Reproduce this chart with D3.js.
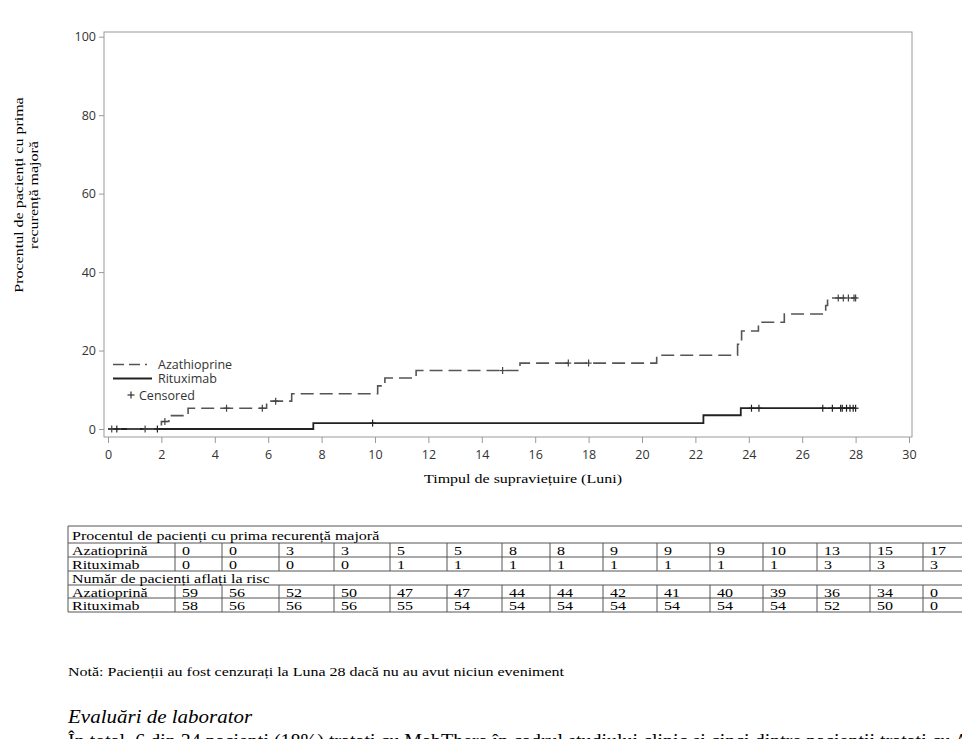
<!DOCTYPE html>
<html><head><meta charset="utf-8">
<script src="https://cdn.jsdelivr.net/npm/d3@7"></script>
<style>
html,body{margin:0;padding:0;background:#fff;overflow:hidden;}
svg{display:block;}
</style></head>
<body>
<svg id="c" width="962" height="739"></svg>
<script>
// ---------- data ----------
const xTicks = [0,2,4,6,8,10,12,14,16,18,20,22,24,26,28,30];
const yTicks = [0,20,40,60,80,100];
// Kaplan-Meier step points [month, cumulative %]
const azaSteps = [[0,0],[2.0,1.9],[2.28,3.4],[3.0,5.3],[5.94,7.1],[6.88,9.0],[10.1,11.0],[10.37,13.0],[11.54,14.9],[15.43,16.8],[20.55,18.8],[23.58,21.6],[23.73,25.0],[24.36,27.2],[25.33,29.3],[26.88,31.5],[26.95,33.4],[28.0,33.4]];
const ritSteps = [[0,0],[7.69,1.5],[22.3,3.5],[23.7,5.3],[28.0,5.3]];
const azaCensor = [0.14,1.39,2.13,4.44,5.78,6.28,14.78,17.24,18.0,27.35,27.54,27.73,27.94,28.0];
const ritCensor = [0.33,1.85,9.91,24.1,24.38,26.77,27.13,27.44,27.5,27.66,27.79,27.91,28.0];
const seriesNames = ["Azathioprine","Rituximab"];
const tableHeader1 = "Procentul de pacienți cu prima recurență majoră";
const tableHeader2 = "Număr de pacienți aflați la risc";
const rowNames = ["Azatioprină","Rituximab"];
const azaPct = [0,0,3,3,5,5,8,8,9,9,9,10,13,15,17];
const ritPct = [0,0,0,0,1,1,1,1,1,1,1,1,3,3,3];
const azaRisk = [59,56,52,50,47,47,44,44,42,41,40,39,36,34,0];
const ritRisk = [58,56,56,56,55,54,54,54,54,54,54,54,52,50,0];
const yLabel = ["Procentul de pacienți cu prima","recurență majoră"];
const xLabel = "Timpul de supraviețuire (Luni)";
const noteText = "Notă: Pacienții au fost cenzurați la Luna 28 dacă nu au avut niciun eveniment";
const headingText = "Evaluări de laborator";
const bodyText = "În total, 6 din 34 pacienți (18%) tratați cu MabThera în cadrul studiului clinic și cinci dintre pacienții tratați cu Azatioprină";

// ---------- layout ----------
const svg = d3.select("#c");
const x = d3.scaleLinear().domain([0,30]).range([108,909]);
const y = d3.scaleLinear().domain([0,100]).range([429,36.7]);
const frame = {x0:104, x1:912, y0:32, y1:437};
const axisCol = "#9a9a9a", tickTxt = "#333", sans = "'Open Sans', 'DejaVu Sans', sans-serif", serif = "'Liberation Serif','Times New Roman',serif";
const SQ = 0.82; // vertical squeeze of serif text in the reference

function sText(parent, x0, y0, str, size, opts={}){
  const t = parent.append("text").attr("transform",`translate(${x0},${y0}) scale(1,${opts.sq||SQ})`)
    .attr("font-family",serif).attr("font-size",size).attr("fill","#000").text(str);
  if(opts.italic) t.attr("font-style","italic");
  if(opts.anchor) t.attr("text-anchor",opts.anchor);
  return t;
}

svg.append("rect").attr("x",frame.x0).attr("y",frame.y0).attr("width",frame.x1-frame.x0).attr("height",frame.y1-frame.y0)
  .attr("fill","none").attr("stroke",axisCol).attr("stroke-width",1);

// x axis
const gx = svg.append("g").attr("transform",`translate(0,${frame.y1})`)
  .call(d3.axisBottom(x).tickValues(xTicks).tickSize(6).tickPadding(7).tickFormat(d3.format("d")));
gx.select(".domain").remove();
gx.selectAll("line").attr("stroke",axisCol);
gx.selectAll("text").attr("font-family",sans).attr("font-size",12.5).attr("fill",tickTxt);

// y axis
const gy = svg.append("g").attr("transform",`translate(${frame.x0},0)`)
  .call(d3.axisLeft(y).tickValues(yTicks).tickSize(5).tickPadding(3).tickFormat(d3.format("d")));
gy.select(".domain").remove();
gy.selectAll("line").attr("stroke",axisCol);
gy.selectAll("text").attr("font-family",sans).attr("font-size",12.5).attr("fill",tickTxt);

// axis labels
sText(svg, 523, 483, xLabel, 16, {anchor:"middle"});
const yl = svg.append("g").attr("transform","translate(0,195) rotate(-90)");
sText(yl, 0, 23, yLabel[0], 16, {anchor:"middle"});
sText(yl, 0, 38, yLabel[1], 16, {anchor:"middle"});

// curves
const line = d3.line().x(d=>x(d[0])).y(d=>y(d[1])).curve(d3.curveStepAfter);
svg.append("path").attr("d",line(ritSteps)).attr("fill","none").attr("stroke","#222").attr("stroke-width",1.8);
svg.append("path").attr("d",line(azaSteps)).attr("fill","none").attr("stroke","#555").attr("stroke-width",1.6)
  .attr("stroke-dasharray","13,6");

function stepVal(steps,t){let v=0;for(const s of steps){if(s[0]<=t)v=s[1];}return v;}
function censors(list,steps,col){
  const g = svg.append("g").attr("stroke",col).attr("stroke-width",1.2);
  list.forEach(t=>{
    const cx=x(t), cy=y(stepVal(steps,t));
    g.append("line").attr("x1",cx).attr("x2",cx).attr("y1",cy-3.5).attr("y2",cy+3.5);
    g.append("line").attr("x1",cx-3).attr("x2",cx+3).attr("y1",cy).attr("y2",cy);
  });
}
censors(azaCensor,azaSteps,"#444");
censors(ritCensor,ritSteps,"#222");

// legend
const lg = svg.append("g");
lg.append("line").attr("x1",113).attr("x2",152).attr("y1",364.5).attr("y2",364.5).attr("stroke","#555").attr("stroke-width",1.6).attr("stroke-dasharray","11,5,11,5,2,5");
lg.append("text").attr("x",158).attr("y",368.5).attr("font-family",sans).attr("font-size",12.5).attr("fill","#333").text(seriesNames[0]);
lg.append("line").attr("x1",113).attr("x2",152).attr("y1",378.5).attr("y2",378.5).attr("stroke","#222").attr("stroke-width",1.8);
lg.append("text").attr("x",158).attr("y",383).attr("font-family",sans).attr("font-size",12.5).attr("fill","#333").text(seriesNames[1]);
lg.append("line").attr("x1",131).attr("x2",131).attr("y1",391.5).attr("y2",398.5).attr("stroke","#333").attr("stroke-width",1.2);
lg.append("line").attr("x1",127.5).attr("x2",134.5).attr("y1",395).attr("y2",395).attr("stroke","#333").attr("stroke-width",1.2);
lg.append("text").attr("x",139).attr("y",399.5).attr("font-family",sans).attr("font-size",12.5).attr("fill","#333").text("Censored");

// table
const colEdges = [68,175,222,279,334,390,447,502,550,603,657,710,763,817,870,923,976];
const rowEdges = [526,543,557,571,585,598,612];
const tcol = "#555";
const tg = svg.append("g");
const rows = [
  {span:true, text:tableHeader1},
  {name:rowNames[0], vals:azaPct},
  {name:rowNames[1], vals:ritPct},
  {span:true, text:tableHeader2},
  {name:rowNames[0], vals:azaRisk},
  {name:rowNames[1], vals:ritRisk}
];
rowEdges.forEach(yy=>tg.append("line").attr("x1",colEdges[0]).attr("x2",colEdges[colEdges.length-1]).attr("y1",yy).attr("y2",yy).attr("stroke",tcol).attr("stroke-width",1));
rows.forEach((r,i)=>{
  const y0=rowEdges[i], y1=rowEdges[i+1], by=(y0+y1)/2+5;
  tg.append("line").attr("x1",colEdges[0]).attr("x2",colEdges[0]).attr("y1",y0).attr("y2",y1).attr("stroke",tcol);
  if(r.span){
    sText(tg, colEdges[0]+4, by, r.text, 16);
  } else {
    colEdges.slice(1).forEach(cx=>tg.append("line").attr("x1",cx).attr("x2",cx).attr("y1",y0).attr("y2",y1).attr("stroke",tcol));
    sText(tg, colEdges[0]+4, by, r.name, 16);
    r.vals.forEach((v,j)=>sText(tg, colEdges[j+1]+7, by, String(v), 16));
  }
});

// notes
sText(svg, 68, 676, noteText, 16);
sText(svg, 68, 723, headingText, 21, {italic:true, sq:0.9});
sText(svg, 68, 747, bodyText, 20, {sq:0.9});
</script>
</body></html>
